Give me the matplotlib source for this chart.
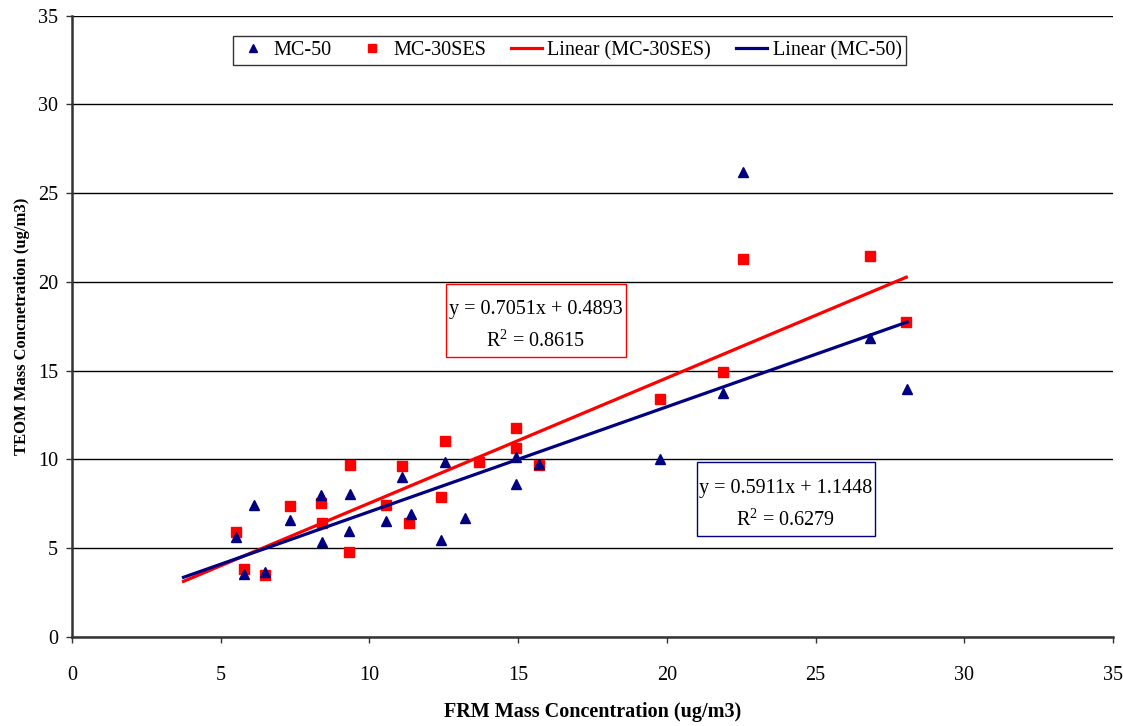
import matplotlib
matplotlib.use("Agg")
import matplotlib.pyplot as plt
from matplotlib.patches import Rectangle
import numpy as np

plt.rcParams['font.family'] = ['Liberation Serif', 'DejaVu Serif']

# FRM vs TEOM paired measurements (ug/m3)
mc50_x = [5.53, 5.79, 6.13, 6.49, 7.32, 8.36, 8.39, 9.34, 9.31, 10.56, 11.09,
          11.41, 12.41, 12.54, 13.21, 14.94, 14.94, 15.69, 19.78, 21.90, 22.56,
          26.83, 28.08]
mc50_y = [5.62, 3.55, 7.44, 3.68, 6.59, 8.00, 5.35, 8.06, 5.97, 6.55, 9.00,
          6.93, 5.46, 9.84, 6.69, 8.62, 10.15, 9.75, 10.01, 13.76, 26.20,
          16.83, 13.95]

mc30_x = [5.53, 5.79, 6.49, 7.32, 8.36, 8.39, 9.34, 9.31, 10.56, 11.09, 11.34,
          12.41, 12.54, 13.69, 14.94, 14.94, 15.69, 19.78, 21.90, 22.56, 26.83,
          28.05]
mc30_y = [5.93, 3.85, 3.48, 7.38, 7.57, 6.41, 9.69, 4.81, 7.42, 9.63, 6.42,
          7.90, 11.04, 9.88, 11.79, 10.63, 9.69, 13.39, 14.93, 21.31, 21.46,
          17.75]

# Linear trendlines (slope, intercept, R^2)
mc30_fit = (0.7051, 0.4893, 0.8615)
mc50_fit = (0.5911, 1.1448, 0.6279)
trend_start = 3.75

x_ticks = [0, 5, 10, 15, 20, 25, 30, 35]
y_ticks = [0, 5, 10, 15, 20, 25, 30, 35]

RED = '#FF0000'
NAVY = '#000080'
FS = 14.5

fig = plt.figure(figsize=(11.23, 7.26), dpi=100)
ax = fig.add_axes([0.0641, 0.1226, 0.9270, 0.8558])

ax.set_xlim(0, 35)
ax.set_ylim(0, 35)
ax.set_xticks(x_ticks)
ax.set_yticks(y_ticks)
ax.yaxis.grid(True, color='black', linewidth=1.0)
ax.set_axisbelow(True)

for side in ('top', 'right'):
    ax.spines[side].set_visible(False)
for side in ('left', 'bottom'):
    ax.spines[side].set_color('#333333')
    ax.spines[side].set_linewidth(1.8)

ax.tick_params(axis='both', direction='out', length=4, width=1, colors='#333333',
               labelcolor='black', labelsize=FS)
ax.tick_params(axis='y', pad=6)
ax.tick_params(axis='x', pad=17)

h1, = ax.plot(mc50_x, mc50_y, linestyle='none', marker='^', color=NAVY,
              markersize=7.5, label='MC-50', zorder=4)
h2, = ax.plot(mc30_x, mc30_y, linestyle='none', marker='s', color=RED,
              markersize=7.3, label='MC-30SES', zorder=3)

xr30 = np.array([trend_start, max(mc30_x)])
h3, = ax.plot(xr30, mc30_fit[0] * xr30 + mc30_fit[1], color=RED, linewidth=2.3,
              label='Linear (MC-30SES)', zorder=5)
xr50 = np.array([trend_start, max(mc50_x)])
h4, = ax.plot(xr50, mc50_fit[0] * xr50 + mc50_fit[1], color=NAVY, linewidth=2.3,
              label='Linear (MC-50)', zorder=6)


def eq_box(x0, x1, y0, y1, fit, edge):
    ax.add_patch(Rectangle((x0, y0), x1 - x0, y1 - y0, facecolor='white',
                           edgecolor=edge, linewidth=1, zorder=7))
    txt = f"y = {fit[0]:.4f}x + {fit[1]:.4f}\n$\\mathregular{{R^2}}$ = {fit[2]:.4f}"
    ax.text((x0 + x1) / 2, (y0 + y1) / 2 - 0.32, txt, ha='center', va='center',
            fontsize=FS, linespacing=1.72, zorder=8)


eq_box(12.58, 18.62, 15.78, 19.90, mc30_fit, RED)
eq_box(21.00, 27.00, 5.69, 9.86, mc50_fit, NAVY)

leg = ax.legend(handles=[h1, h2, h3, h4], loc='upper left',
                bbox_to_anchor=(0.1545, 0.9665), ncol=4, fontsize=FS,
                frameon=True, fancybox=False, edgecolor='black',
                handlelength=1.55, columnspacing=1.25, handletextpad=0.25,
                markerscale=0.75, borderpad=0.22, borderaxespad=0)
leg.get_frame().set_linewidth(1)

ax.set_xlabel('FRM Mass Concentration (ug/m3)', fontsize=FS, fontweight='bold',
              labelpad=12)
ax.set_ylabel('TEOM Mass Concnetration (ug/m3)', fontsize=12, fontweight='bold',
              labelpad=6)

fig.savefig('out.png', dpi=100)
